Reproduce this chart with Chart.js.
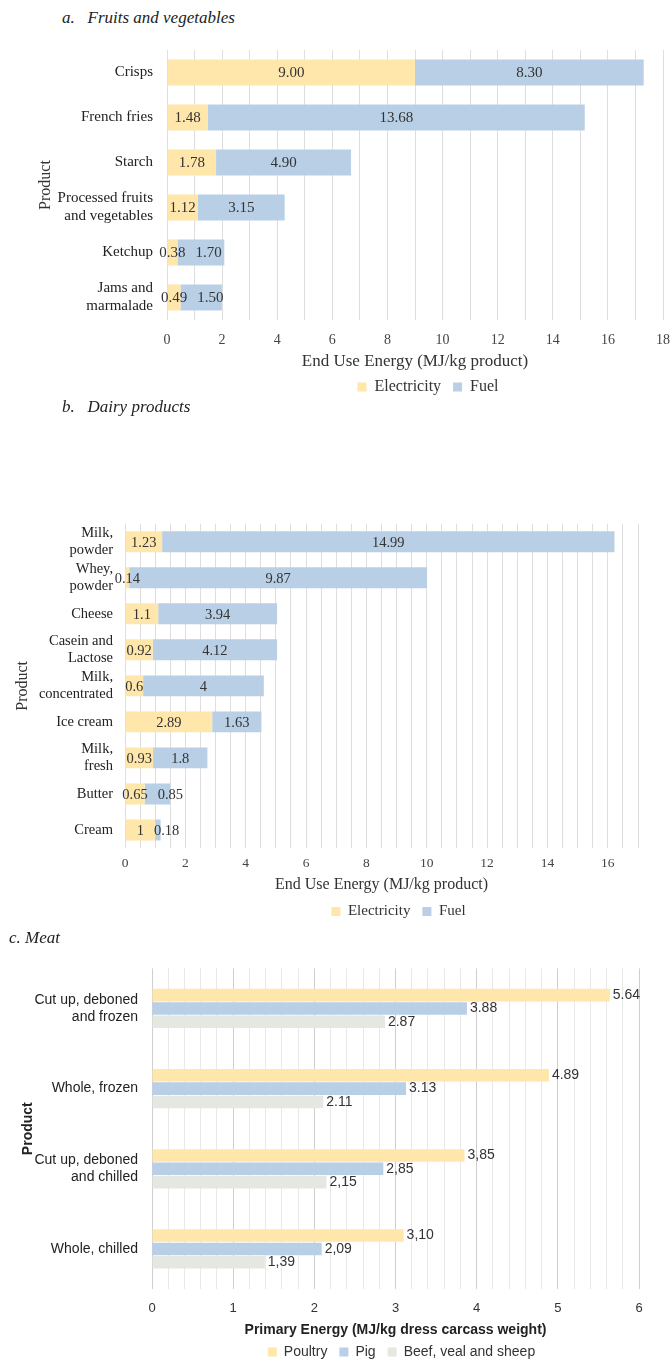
<!DOCTYPE html>
<html>
<head>
<meta charset="utf-8">
<script src="https://cdn.jsdelivr.net/npm/chart.js@4.4.1/dist/chart.umd.min.js"></script>
<style>
  html, body { margin: 0; padding: 0; background: #fff; overflow: hidden; }
  body { width: 670px; height: 1360px; position: relative; overflow: hidden; }
  .title { position: absolute; font-family: "Liberation Serif", serif; font-style: italic; font-size: 17px; color: #222; white-space: pre; }
  .box { position: absolute; left: 0; }
</style>
</head>
<body>
<div class="title" style="left:62px; top:8px;">a.   Fruits and vegetables</div>
<div class="box" style="top:26px; width:682px; height:384px;"><canvas id="fruitChart"></canvas></div>

<div class="title" style="left:62px; top:397px;">b.   Dairy products</div>
<div class="box" style="top:511px; width:670px; height:420px;"><canvas id="dairyChart"></canvas></div>

<div class="title" style="left:9px; top:928px;">c. Meat</div>
<div class="box" style="top:954px; width:670px; height:421px;"><canvas id="meatChart"></canvas></div>

<script>
// a. Fruits and vegetables
const fruitCategories = [['Crisps'], ['French fries'], ['Starch'], ['Processed fruits', 'and vegetables'], ['Ketchup'], ['Jams and', 'marmalade']];
const fruitElectricity = [9.00, 1.48, 1.78, 1.12, 0.38, 0.49];
const fruitFuel = [8.30, 13.68, 4.90, 3.15, 1.70, 1.50];

// b. Dairy products
const dairyCategories = [['Milk,', 'powder'], ['Whey,', 'powder'], ['Cheese'], ['Casein and', 'Lactose'], ['Milk,', 'concentrated'], ['Ice cream'], ['Milk,', 'fresh'], ['Butter'], ['Cream']];
const dairyElectricity = [1.23, 0.14, 1.1, 0.92, 0.6, 2.89, 0.93, 0.65, 1];
const dairyFuel = [14.99, 9.87, 3.94, 4.12, 4, 1.63, 1.8, 0.85, 0.18];

// c. Meat
const meatCategories = [['Cut up, deboned', 'and frozen'], ['Whole, frozen'], ['Cut up, deboned', 'and chilled'], ['Whole, chilled']];
const meatPoultry = [5.64, 4.89, 3.85, 3.10];
const meatPig = [3.88, 3.13, 2.85, 2.09];
const meatBeef = [2.87, 2.11, 2.15, 1.39];
const meatDecimalMark = ['.', '.', ',', ','];

const YELLOW = '#ffe6aa';
const BLUE = '#b8cfe5';
const GREY = '#e5e8e0';
const SERIF = '"Liberation Serif", "Times New Roman", serif';
const SANS = '"Liberation Sans", Arial, sans-serif';

// labels in the middle of each stacked segment, pushed right when they would collide
function centerLabels(fontSize, fmt) {
    return {
        id: 'centerLabels',
        afterDatasetsDraw(chart) {
            const ctx = chart.ctx;
            ctx.save();
            ctx.font = fontSize + 'px ' + SERIF;
            ctx.fillStyle = '#333';
            ctx.textAlign = 'center';
            ctx.textBaseline = 'middle';
            const rightEdge = [];
            chart.data.datasets.forEach((ds, i) => {
                chart.getDatasetMeta(i).data.forEach((bar, j) => {
                    const txt = fmt(ds.data[j]);
                    const w = ctx.measureText(txt).width;
                    let x = (bar.x + bar.base) / 2;
                    if (rightEdge[j] !== undefined && x - w / 2 < rightEdge[j] + 10) {
                        x = rightEdge[j] + 10 + w / 2;
                    }
                    rightEdge[j] = x + w / 2;
                    ctx.fillText(txt, x, bar.y + 1);
                });
            });
            ctx.restore();
        }
    };
}

// labels just past the end of each bar
const endLabels = {
    id: 'endLabels',
    afterDatasetsDraw(chart) {
        const ctx = chart.ctx;
        ctx.save();
        ctx.font = '14px ' + SANS;
        ctx.fillStyle = '#333';
        ctx.textAlign = 'left';
        ctx.textBaseline = 'middle';
        chart.data.datasets.forEach((ds, i) => {
            chart.getDatasetMeta(i).data.forEach((bar, j) => {
                const txt = ds.data[j].toFixed(2).replace('.', meatDecimalMark[j]);
                ctx.fillText(txt, bar.x + 3, bar.y);
            });
        });
        ctx.restore();
    }
};

// move the legend box a little, the original is not centred exactly
function nudgeLegend(dx, dy) {
    return {
        id: 'nudgeLegend',
        afterLayout(chart) {
            const lg = chart.legend;
            lg.left += dx; lg.right += dx;
            lg.top += dy; lg.bottom += dy;
        }
    };
}

function stackedOptions(cfg) {
    return {
        indexAxis: 'y',
        responsive: true,
        maintainAspectRatio: false,
        animation: false,
        layout: { padding: { top: 0, left: cfg.padLeft, right: cfg.padRight, bottom: 0 } },
        plugins: {
            legend: {
                position: 'bottom',
                fullSize: false,
                labels: {
                    boxWidth: 9, boxHeight: 9, padding: 12,
                    color: '#333',
                    font: { family: SERIF, size: cfg.legendSize }
                }
            },
            tooltip: { enabled: false }
        },
        scales: {
            x: {
                stacked: true,
                min: 0, max: cfg.max,
                border: { display: false },
                grid: { color: '#dedede', drawTicks: false },
                ticks: {
                    stepSize: cfg.step,
                    autoSkip: false,
                    maxRotation: 0,
                    padding: cfg.tickPad,
                    color: '#444',
                    font: { family: SERIF, size: cfg.xTickSize },
                    callback: v => (Math.abs(v / 2 - Math.round(v / 2)) < 1e-6 ? String(Math.round(v)) : '')
                },
                title: {
                    display: true,
                    text: 'End Use Energy (MJ/kg product)',
                    color: '#333',
                    padding: 0,
                    font: { family: SERIF, size: cfg.xTitleSize }
                },
                afterFit: s => { s.height = cfg.xHeight; }
            },
            y: {
                stacked: true,
                border: { display: false },
                grid: { display: false },
                ticks: {
                    autoSkip: false,
                    padding: cfg.yTickPad,
                    color: '#222',
                    font: { family: SERIF, size: cfg.tickSize }
                },
                title: {
                    display: true,
                    text: 'Product',
                    color: '#333',
                    padding: 0,
                    font: { family: SERIF, size: 16 }
                },
                afterFit: s => { s.width = cfg.yWidth; }
            }
        }
    };
}

new Chart(document.getElementById('fruitChart'), {
    type: 'bar',
    data: {
        labels: fruitCategories,
        datasets: [
            { label: 'Electricity', data: fruitElectricity, backgroundColor: YELLOW, barPercentage: 0.58, categoryPercentage: 1 },
            { label: 'Fuel', data: fruitFuel, backgroundColor: BLUE, barPercentage: 0.58, categoryPercentage: 1 }
        ]
    },
    options: stackedOptions({
        padLeft: 36, padRight: 8, max: 18, step: 1, tickPad: 12, xHeight: 52, yWidth: 131, yTickPad: 6,
        tickSize: 15, xTickSize: 14, xTitleSize: 17, legendSize: 16
    }),
    plugins: [centerLabels(15, v => v.toFixed(2)), nudgeLegend(13, -5)]
});

new Chart(document.getElementById('dairyChart'), {
    type: 'bar',
    data: {
        labels: dairyCategories,
        datasets: [
            { label: 'Electricity', data: dairyElectricity, backgroundColor: YELLOW, barPercentage: 0.58, categoryPercentage: 1 },
            { label: 'Fuel', data: dairyFuel, backgroundColor: BLUE, barPercentage: 0.58, categoryPercentage: 1 }
        ]
    },
    options: stackedOptions({
        padLeft: 13, padRight: 32, max: 17, step: 0.5, tickPad: 7, xHeight: 46, yWidth: 112, yTickPad: 4,
        tickSize: 14.5, xTickSize: 13.5, xTitleSize: 16, legendSize: 15
    }),
    plugins: [centerLabels(14.5, v => String(v)), nudgeLegend(17, -2)]
});

new Chart(document.getElementById('meatChart'), {
    type: 'bar',
    data: {
        labels: meatCategories,
        datasets: [
            { label: 'Poultry', data: meatPoultry, backgroundColor: YELLOW },
            { label: 'Pig', data: meatPig, backgroundColor: BLUE },
            { label: 'Beef, veal and sheep', data: meatBeef, backgroundColor: GREY }
        ]
    },
    options: {
        indexAxis: 'y',
        responsive: true,
        maintainAspectRatio: false,
        animation: false,
        datasets: { bar: { barPercentage: 0.94, categoryPercentage: 0.5 } },
        layout: { padding: { top: 0, left: 20, right: 31, bottom: 0 } },
        plugins: {
            legend: {
                position: 'bottom',
                fullSize: false,
                labels: {
                    boxWidth: 9, boxHeight: 9, padding: 12,
                    color: '#333',
                    font: { family: SANS, size: 14 }
                }
            },
            tooltip: { enabled: false }
        },
        scales: {
            x: {
                min: 0, max: 6,
                border: { display: false },
                grid: {
                    drawTicks: false,
                    color: c => (Math.abs(c.tick.value - Math.round(c.tick.value)) < 1e-6 ? '#cfcfcf' : '#e8e8e8')
                },
                ticks: {
                    stepSize: 0.2,
                    autoSkip: false,
                    maxRotation: 0,
                    padding: 12,
                    color: '#333',
                    font: { family: SANS, size: 13 },
                    callback: v => (Math.abs(v - Math.round(v)) < 1e-6 ? String(Math.round(v)) : '')
                },
                title: {
                    display: true,
                    text: 'Primary Energy (MJ/kg dress carcass weight)',
                    color: '#222',
                    padding: 0,
                    font: { family: SANS, size: 14, weight: 'bold' }
                },
                afterFit: s => { s.height = 50; }
            },
            y: {
                border: { display: false },
                grid: { display: false },
                ticks: {
                    autoSkip: false,
                    padding: 6,
                    color: '#222',
                    font: { family: SANS, size: 14 }
                },
                title: {
                    display: true,
                    text: 'Product',
                    color: '#222',
                    padding: 0,
                    font: { family: SANS, size: 14, weight: 'bold' }
                },
                afterFit: s => { s.width = 132; }
            }
        }
    },
    plugins: [endLabels, nudgeLegend(6, -6)]
});
</script>
</body>
</html>
